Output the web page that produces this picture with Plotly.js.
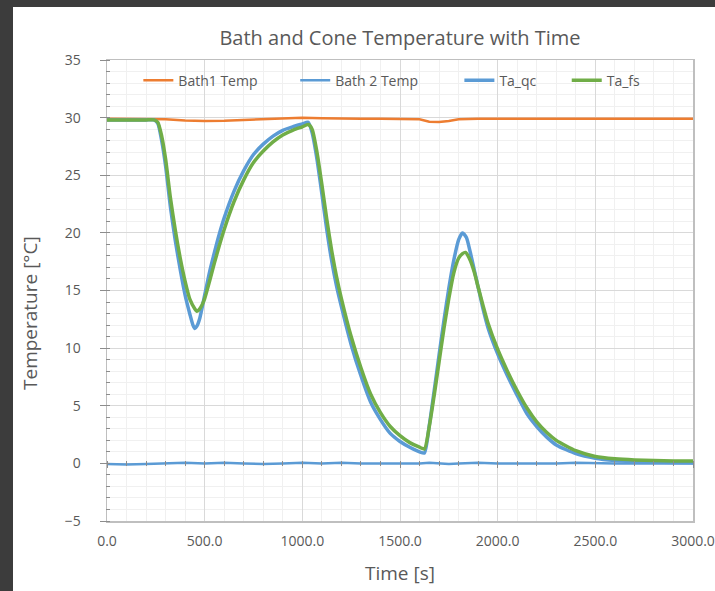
<!DOCTYPE html>
<html>
<head>
<meta charset="utf-8">
<script src="https://cdn.plot.ly/plotly-3.0.1.min.js"></script>
<style>
  html, body { margin: 0; padding: 0; width: 715px; height: 591px; background: #3c3c3c; overflow: hidden; }
  #chart { position: absolute; left: 13px; top: 7px; width: 702px; height: 584px; background: #ffffff; }
</style>
</head>
<body>
<div id="chart"></div>
<script>
// Bath set-points (s, °C)
const timeBath = [0,100,200,300,400,500,600,700,800,900,1000,1100,1200,1300,1400,1500,1600,1650,1700,1750,1800,1900,2000,2100,2200,2300,2400,2500,2600,2700,2800,2900,3000];
const bath1Temp = [29.9,29.9,29.9,29.85,29.75,29.7,29.72,29.78,29.85,29.9,30.0,29.95,29.9,29.9,29.9,29.88,29.85,29.65,29.62,29.7,29.85,29.9,29.9,29.9,29.9,29.9,29.9,29.9,29.9,29.9,29.9,29.9,29.9];
const bath2Temp = [-0.05,-0.1,-0.05,0.0,0.05,0.0,0.05,0.0,-0.05,0.0,0.05,0.0,0.05,0.0,0.0,-0.05,0.0,0.05,0.0,-0.05,0.0,0.05,0.0,0.0,-0.05,0.0,0.05,0.0,0.0,0.0,0.0,-0.05,0.0];

// Cone temperature, quick-calc model
const timeQc = [0,100,200,240,260,280,300,325,350,375,400,425,440,450,460,475,500,525,550,575,600,650,700,750,800,850,900,950,1000,1030,1050,1075,1100,1125,1150,1175,1200,1250,1300,1350,1400,1450,1500,1550,1600,1625,1650,1675,1700,1725,1750,1775,1800,1820,1840,1860,1880,1900,1925,1950,2000,2050,2100,2150,2200,2250,2300,2400,2500,2600,2700,2800,2900,3000];
const taQc = [29.8,29.8,29.8,29.8,29.5,28.0,25.8,22.2,19.3,16.8,14.6,12.9,12.0,11.7,11.9,12.6,14.6,16.6,18.3,19.9,21.3,23.6,25.4,26.8,27.7,28.4,28.9,29.2,29.45,29.6,28.7,26.4,23.4,20.3,17.6,15.4,13.6,10.3,7.6,5.3,3.8,2.6,1.9,1.4,1.0,0.9,3.3,6.3,9.4,12.4,15.2,17.6,19.4,20.0,19.6,18.3,16.8,15.3,13.4,11.8,9.5,7.6,5.9,4.3,3.2,2.3,1.6,0.85,0.45,0.25,0.15,0.1,0.08,0.05];

// Cone temperature, full simulation
const timeFs = [0,100,200,240,260,280,300,325,350,375,400,425,450,460,470,485,500,525,550,575,600,650,700,750,800,850,900,950,1000,1030,1050,1075,1100,1125,1150,1175,1200,1250,1300,1350,1400,1450,1500,1550,1600,1625,1650,1675,1700,1725,1750,1775,1800,1820,1835,1860,1880,1900,1925,1950,2000,2050,2100,2150,2200,2250,2300,2400,2500,2600,2700,2800,2900,3000];
const taFs = [29.8,29.8,29.8,29.8,29.6,28.4,26.4,23.0,20.2,17.8,15.8,14.2,13.4,13.2,13.3,13.7,14.3,15.8,17.4,18.9,20.3,22.7,24.6,26.1,27.1,27.9,28.5,28.9,29.2,29.4,29.0,27.0,24.2,21.2,18.5,16.2,14.3,11.0,8.3,6.0,4.4,3.2,2.4,1.8,1.4,1.25,3.2,5.9,8.8,11.7,14.3,16.5,17.8,18.2,18.3,17.6,16.6,15.3,13.7,12.2,9.9,8.0,6.3,4.8,3.6,2.7,2.0,1.1,0.6,0.4,0.3,0.25,0.2,0.2];

// legend labels; trailing no-break spaces widen the gap before the next entry
const seriesNames = ['Bath1 Temp', 'Bath 2 Temp', 'Ta_qc', 'Ta_fs'];
const legendPad = [9, 10, 7, 0];
const legendLabel = (i) => seriesNames[i] + '\u00a0'.repeat(legendPad[i]);

const textGrey = '#595959';
const tickGrey = '#8c8c8c';
const fontFamily = '"Open Sans", "DejaVu Sans", sans-serif';

// bath curves sit on the main axes, cone curves on the overlay axes (drawn on top)
const traces = [
  { x: timeBath, y: bath1Temp, name: legendLabel(0), mode: 'lines', line: { color: '#ED7D31', width: 2.5 } },
  { x: timeBath, y: bath2Temp, name: legendLabel(1), mode: 'lines', line: { color: '#5B9BD5', width: 2.5 } },
  { x: timeQc, y: taQc, name: legendLabel(2), mode: 'lines', xaxis: 'x2', yaxis: 'y2',
    line: { color: '#5B9BD5', width: 3.5, shape: 'spline', smoothing: 0.6 } },
  { x: timeFs, y: taFs, name: legendLabel(3), mode: 'lines', xaxis: 'x2', yaxis: 'y2',
    line: { color: '#70AD47', width: 3.5, shape: 'spline', smoothing: 0.6 } }
];

const plotH = 584 - 53 - 70;
const plotW = 702 - 94 - 22;

const layout = {
  width: 702,
  height: 584,
  margin: { l: 94, r: 22, t: 53, b: 70 },
  paper_bgcolor: '#ffffff',
  plot_bgcolor: '#ffffff',
  font: { family: fontFamily, color: textGrey, size: 14 },
  showlegend: true,
  title: {
    text: 'Bath and Cone Temperature with Time',
    font: { size: 20, color: textGrey, family: fontFamily },
    xref: 'paper', x: 0.5, xanchor: 'center',
    yref: 'container', y: 1 - 31 / 584, yanchor: 'middle'
  },
  legend: {
    orientation: 'h',
    x: 0.0535, xanchor: 'left',
    y: 0.99, yanchor: 'top',
    bgcolor: 'rgba(0,0,0,0)',
    font: { size: 14, color: textGrey, family: fontFamily },
    traceorder: 'normal'
  },
  xaxis: {
    range: [0, 3000],
    dtick: 500,
    tickformat: '.1f',
    ticks: '',
    ticklabelstandoff: 7,
    tickfont: { size: 14, color: textGrey },
    showgrid: true,
    gridcolor: '#d9d9d9',
    gridwidth: 1,
    minor: { dtick: 100, showgrid: true, gridcolor: '#f0f0f0', gridwidth: 1 },
    zeroline: false,
    showline: true,
    mirror: true,
    linecolor: '#bfbfbf',
    linewidth: 1.5,
    title: { text: 'Time [s]', font: { size: 19, color: textGrey }, standoff: 17 },
    fixedrange: true
  },
  yaxis: {
    range: [-5, 35],
    dtick: 5,
    ticks: '',
    ticklabelstandoff: 22,
    tickfont: { size: 14, color: textGrey },
    showgrid: true,
    gridcolor: '#d9d9d9',
    gridwidth: 1,
    minor: { dtick: 1, showgrid: true, gridcolor: '#f0f0f0', gridwidth: 1 },
    zeroline: false,
    showline: true,
    mirror: true,
    linecolor: '#bfbfbf',
    linewidth: 1.5,
    fixedrange: true
  },
  // horizontal axis crossing at 0 °C: tick marks only
  xaxis2: {
    overlaying: 'x', anchor: 'free', position: 0.125 + 3 / plotH, side: 'bottom',
    range: [0, 3000], dtick: 500,
    ticks: 'outside', ticklen: 7, tickcolor: tickGrey, tickwidth: 1,
    minor: { dtick: 100, ticks: 'outside', ticklen: 5, tickcolor: tickGrey, tickwidth: 1 },
    showticklabels: false, showgrid: false, zeroline: false, showline: false, fixedrange: true
  },
  // vertical axis tick marks crossing the left edge
  yaxis2: {
    overlaying: 'y', anchor: 'free', position: 3 / plotW, side: 'left',
    range: [-5, 35], dtick: 5,
    ticks: 'outside', ticklen: 10, tickcolor: tickGrey, tickwidth: 1,
    minor: { dtick: 1, ticks: 'outside', ticklen: 4, tickcolor: tickGrey, tickwidth: 1 },
    showticklabels: false, showgrid: false, zeroline: false, showline: false, fixedrange: true
  },
  annotations: [
    {
      text: 'Temperature [°C]',
      xref: 'paper', yref: 'paper',
      x: (30 - 107) / plotW, y: (521 - 313) / plotH,
      xanchor: 'center', yanchor: 'middle',
      textangle: -90, showarrow: false,
      font: { size: 19, color: textGrey, family: fontFamily }
    }
  ]
};

Plotly.newPlot('chart', traces, layout, { displayModeBar: false, staticPlot: true });
</script>
</body>
</html>
